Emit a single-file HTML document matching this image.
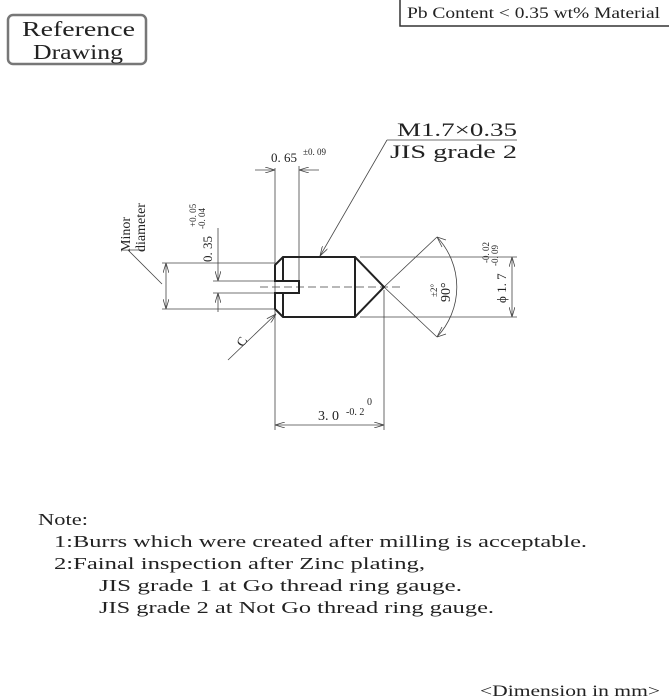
<!DOCTYPE html>
<html><head><meta charset="utf-8"><style>
body{margin:0;background:#fff;}
svg{display:block;}
text{font-family:"Liberation Serif",serif;fill:#222;}
</style></head><body>
<svg width="669" height="700" viewBox="0 0 669 700" xmlns="http://www.w3.org/2000/svg">
<defs>
<marker id="a" markerWidth="10" markerHeight="6" refX="10" refY="3" orient="auto" markerUnits="userSpaceOnUse"><path d="M0,0 L10,3 L0,6" fill="none" stroke="#444" stroke-width="0.8"/></marker>
</defs>
<rect x="8" y="15" width="138" height="49" rx="5" fill="none" stroke="#777" stroke-width="2.5"/>
<text x="22" y="36" font-size="21" textLength="113" lengthAdjust="spacingAndGlyphs" fill="#555">Reference</text>
<text x="33" y="59" font-size="21" textLength="90" lengthAdjust="spacingAndGlyphs" fill="#555">Drawing</text>
<path d="M400,0 V26 H669" fill="none" stroke="#333" stroke-width="1.5"/>
<text x="407" y="18" font-size="16" textLength="253" lengthAdjust="spacingAndGlyphs">Pb Content &lt; 0.35 wt% Material</text>

<g stroke="#444" stroke-width="0.8" fill="none">
<line x1="162" y1="263" x2="275" y2="263"/><line x1="162" y1="309" x2="275" y2="309"/>
<line x1="166" y1="286" x2="166" y2="263" marker-end="url(#a)"/><line x1="166" y1="286" x2="166" y2="309" marker-end="url(#a)"/>
<line x1="128" y1="250" x2="162" y2="284"/><line x1="128" y1="250" x2="145" y2="250"/>
<line x1="213" y1="281" x2="275" y2="281"/><line x1="213" y1="293" x2="275" y2="293"/>
<line x1="218" y1="228" x2="218" y2="281" marker-end="url(#a)"/><line x1="218" y1="312" x2="218" y2="293" marker-end="url(#a)"/>
<line x1="275" y1="168" x2="275" y2="312"/><line x1="299" y1="166" x2="299" y2="281"/>
<line x1="255" y1="170" x2="275" y2="170" marker-end="url(#a)"/><line x1="319" y1="170" x2="299" y2="170" marker-end="url(#a)"/>
<line x1="260" y1="287" x2="400" y2="287" stroke-dasharray="8,4"/>
<line x1="387" y1="140" x2="320" y2="256" marker-end="url(#a)"/><line x1="387" y1="140" x2="517" y2="140"/>
<line x1="360" y1="257" x2="517" y2="257"/><line x1="360" y1="317" x2="517" y2="317"/>
<line x1="512" y1="287" x2="512" y2="257" marker-end="url(#a)"/><line x1="512" y1="287" x2="512" y2="317" marker-end="url(#a)"/>
<line x1="384" y1="287" x2="437" y2="237"/><line x1="384" y1="287" x2="437" y2="337"/>
<path d="M437,237 A73,73 0 0 1 437,337"/>
<path d="M437,237 l5,10 M437,237 l9,3 M437,337 l5,-10 M437,337 l9,-3"/>
<line x1="275" y1="312" x2="275" y2="430"/><line x1="384" y1="290" x2="384" y2="430"/>
<line x1="330" y1="425" x2="275" y2="425" marker-end="url(#a)"/><line x1="330" y1="425" x2="384" y2="425" marker-end="url(#a)"/>
<line x1="228" y1="360" x2="276" y2="314" marker-end="url(#a)"/>
</g>
<g stroke="#222" stroke-width="2" fill="none">
<path d="M283,257 H355 L384,287 L355,317 H283 L275,309 V293 H299 V281 H275 V265 Z"/>
<line x1="355" y1="257" x2="355" y2="317"/>
<line x1="283" y1="257" x2="283" y2="281"/><line x1="283" y1="293" x2="283" y2="317"/>
</g>
<text x="397" y="136" font-size="19" textLength="120" lengthAdjust="spacingAndGlyphs">M1.7×0.35</text>
<text x="390" y="158" font-size="19" textLength="127" lengthAdjust="spacingAndGlyphs">JIS grade 2</text>
<text x="271" y="162" font-size="13">0. 65</text>
<text x="303" y="155" font-size="9">±0. 09</text>
<text x="318" y="420" font-size="14">3. 0</text>
<text x="346" y="415" font-size="10">-0. 2</text>
<text x="367" y="405" font-size="10">0</text>
<text x="239" y="350" font-size="13" transform="rotate(-60 239 345)">C</text>
<g transform="translate(130,252) rotate(-90)"><text font-size="14">Minor</text></g>
<g transform="translate(145,252) rotate(-90)"><text font-size="14">diameter</text></g>
<g transform="translate(212,262) rotate(-90)"><text font-size="13">0. 35</text><text x="33" y="-7" font-size="9">-0. 04</text><text x="35" y="-16" font-size="9">+0. 05</text></g>
<g transform="translate(506,303) rotate(-90)"><text font-size="13">ϕ 1. 7</text><text x="37" y="-8" font-size="9">-0. 09</text><text x="40" y="-17" font-size="9">-0. 02</text></g>
<g transform="translate(450,302) rotate(-90)"><text font-size="14">90°</text><text x="5" y="-13" font-size="9">±2°</text></g>
<g font-size="17">
<text x="38" y="525" textLength="50" lengthAdjust="spacingAndGlyphs">Note:</text>
<text x="54" y="547" textLength="533" lengthAdjust="spacingAndGlyphs">1:Burrs which were created after milling is acceptable.</text>
<text x="54" y="569" textLength="371" lengthAdjust="spacingAndGlyphs">2:Fainal inspection after Zinc plating,</text>
<text x="99" y="591" textLength="363" lengthAdjust="spacingAndGlyphs">JIS grade 1 at Go thread ring gauge.</text>
<text x="99" y="613" textLength="395" lengthAdjust="spacingAndGlyphs">JIS grade 2 at Not Go thread ring gauge.</text>
</g>
<text x="480" y="696" font-size="16" textLength="180" lengthAdjust="spacingAndGlyphs">&lt;Dimension in mm&gt;</text>
</svg>
</body></html>
